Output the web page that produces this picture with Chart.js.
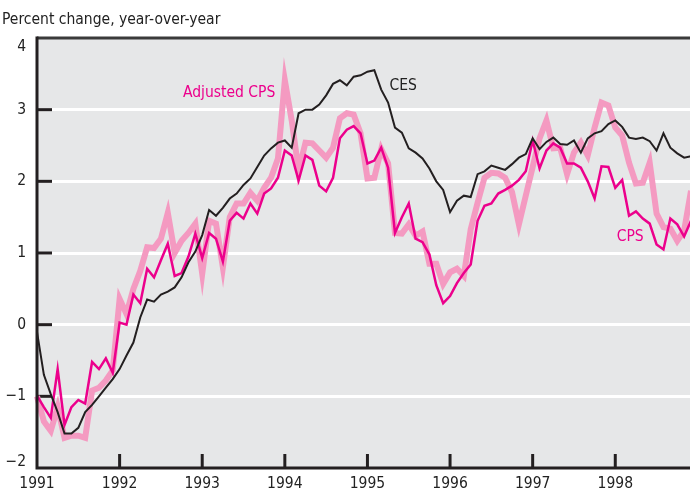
<!DOCTYPE html>
<html>
<head>
<meta charset="utf-8">
<script src="https://cdn.jsdelivr.net/npm/chart.js@4"></script>
<style>
  html, body { margin: 0; padding: 0; background: #fff; }
  #wrap { width: 690px; height: 492px; position: relative; overflow: hidden; }
</style>
</head>
<body>
<div id="wrap"><canvas id="chart" width="698" height="492"></canvas></div>
<script>
// Years on the x axis (monthly data, Jan 1991 - Dec 1998)
const years = [1991, 1992, 1993, 1994, 1995, 1996, 1997, 1998];

// Tick values on the y axis
const yTicks = [-2, -1, 0, 1, 2, 3, 4];

// CES, year-over-year percent change
const cesValues = [
    -0.1, -0.7, -0.97, -1.22, -1.52, -1.52, -1.44, -1.22, -1.12, -1.0, -0.88, -0.76,
    -0.62, -0.43, -0.25, 0.1, 0.35, 0.32, 0.42, 0.46, 0.52, 0.66, 0.87, 1.02,
    1.25, 1.6, 1.52, 1.63, 1.76, 1.83, 1.95, 2.04, 2.2, 2.36, 2.46, 2.54,
    2.57, 2.47, 2.95, 3.0, 3.0, 3.07, 3.2, 3.36, 3.41, 3.34, 3.46, 3.48,
    3.53, 3.55, 3.28, 3.1, 2.75, 2.68, 2.46, 2.4, 2.32, 2.18, 2.0, 1.88,
    1.57, 1.73, 1.8, 1.78, 2.1, 2.14, 2.22, 2.19, 2.16, 2.24, 2.33, 2.38,
    2.6, 2.45, 2.55, 2.61, 2.52, 2.51, 2.57, 2.4, 2.6, 2.67, 2.7, 2.8,
    2.85, 2.76, 2.61, 2.59, 2.61, 2.56, 2.43, 2.67, 2.47, 2.39, 2.33, 2.35
];

// CPS, year-over-year percent change
const cpsValues = [
    -0.99, -1.15, -1.3, -0.62, -1.4, -1.15, -1.05, -1.1, -0.52, -0.62, -0.47, -0.67,
    0.03, 0.0, 0.42, 0.3, 0.78, 0.66, 0.9, 1.13, 0.68, 0.72, 0.95, 1.27,
    0.93, 1.28, 1.2, 0.88, 1.45, 1.56, 1.48, 1.69, 1.55, 1.83, 1.9, 2.05,
    2.43, 2.36, 2.01, 2.36, 2.3, 1.94, 1.86, 2.05, 2.6, 2.72, 2.77, 2.67,
    2.25, 2.29, 2.47, 2.19, 1.28, 1.5, 1.69, 1.2, 1.15, 0.98, 0.55, 0.3,
    0.4, 0.58, 0.72, 0.84, 1.45, 1.66, 1.69, 1.83, 1.88, 1.94, 2.02, 2.14,
    2.57, 2.18, 2.43, 2.53, 2.47, 2.25, 2.25, 2.19, 2.0, 1.76, 2.21, 2.2,
    1.91, 2.02, 1.52, 1.58, 1.48, 1.41, 1.12, 1.05, 1.48, 1.4, 1.23, 1.45
];

// Adjusted CPS, year-over-year percent change
const adjustedCpsValues = [
    -1.0, -1.35, -1.48, -1.15, -1.58, -1.55, -1.55, -1.58, -0.92, -0.88, -0.78, -0.64,
    0.36, 0.15, 0.5, 0.75, 1.08, 1.07, 1.2, 1.56, 1.0, 1.17, 1.28, 1.41,
    0.71, 1.45, 1.41, 0.8, 1.5, 1.69, 1.69, 1.84, 1.73, 1.91, 2.05, 2.32,
    3.41, 2.85, 2.15, 2.54, 2.53, 2.43, 2.33, 2.47, 2.88, 2.95, 2.93, 2.67,
    2.04, 2.05, 2.45, 2.25, 1.28, 1.27, 1.4, 1.24, 1.3, 0.85, 0.85, 0.57,
    0.73, 0.78, 0.68, 1.33, 1.7, 2.05, 2.12, 2.11, 2.05, 1.85, 1.4, 1.8,
    2.2, 2.6, 2.85, 2.46, 2.47, 2.1, 2.4, 2.54, 2.36, 2.75, 3.1, 3.06,
    2.75, 2.64, 2.26, 1.97, 1.98, 2.26, 1.55, 1.36, 1.34, 1.17, 1.31, 1.87
];

const FONT = '"Liberation Sans Narrow", "DejaVu Sans Condensed", sans-serif';
const TEXT_SIZE = 15.5;
const BLACK = '#231f20';
const MAGENTA = '#ec008c';
const PINK = '#f49ac1';
const PANEL = '#e6e7e8';

// One label per month
const monthLabels = [];
years.forEach(y => {
    for (let m = 1; m <= 12; m++) monthLabels.push(y + '-' + m);
});

function yLabel(v) {
    return v < 0 ? '\u2212' + Math.abs(v) : String(v);
}

// Panel background, title, axis labels and series names
const decorPlugin = {
    id: 'decor',
    beforeDraw(chart) {
        const {ctx, chartArea: a} = chart;
        ctx.save();
        ctx.fillStyle = PANEL;
        ctx.fillRect(a.left, a.top, a.right - a.left, a.bottom - a.top);
        ctx.fillStyle = '#222';
        ctx.font = TEXT_SIZE + 'px ' + FONT;
        ctx.textBaseline = 'alphabetic';
        ctx.textAlign = 'left';
        ctx.fillText('Percent change, year-over-year', 2, 24);
        ctx.restore();
    },
    beforeDatasetsDraw(chart) {
        // short tick marks inside the panel
        const {ctx, chartArea: a, scales} = chart;
        ctx.save();
        ctx.strokeStyle = BLACK;
        ctx.lineWidth = 3;
        yTicks.forEach(v => {
            if (v === -2 || v === 4) return;
            const y = scales.y.getPixelForValue(v);
            ctx.beginPath();
            ctx.moveTo(a.left, y);
            ctx.lineTo(a.left + 15, y);
            ctx.stroke();
        });
        years.forEach((yr, i) => {
            if (i === 0) return;
            const x = scales.x.getPixelForValue(i * 12);
            ctx.beginPath();
            ctx.moveTo(x, a.bottom);
            ctx.lineTo(x, a.bottom - 14);
            ctx.stroke();
        });
        ctx.restore();
    },
    afterDatasetsDraw(chart) {
        const {ctx, chartArea: a, scales} = chart;
        ctx.save();
        // frame: dark top border, black left and bottom axes
        ctx.lineWidth = 3;
        ctx.strokeStyle = '#3a3a3a';
        ctx.beginPath();
        ctx.moveTo(a.left, a.top);
        ctx.lineTo(a.right, a.top);
        ctx.stroke();
        ctx.strokeStyle = BLACK;
        ctx.beginPath();
        ctx.moveTo(a.left, a.top - 1.5);
        ctx.lineTo(a.left, a.bottom);
        ctx.lineTo(a.right, a.bottom);
        ctx.stroke();

        ctx.font = TEXT_SIZE + 'px ' + FONT;
        ctx.textBaseline = 'middle';

        // y tick labels, end ones kept inside the panel height
        ctx.fillStyle = '#222';
        ctx.textAlign = 'right';
        yTicks.forEach(v => {
            let y = scales.y.getPixelForValue(v);
            y = Math.max(a.top + 9, Math.min(a.bottom - 6, y));
            ctx.fillText(yLabel(v), a.left - 11, y);
        });

        // series names
        ctx.textAlign = 'left';
        ctx.fillStyle = MAGENTA;
        ctx.fillText('Adjusted CPS', scales.x.getPixelForValue(21.2), scales.y.getPixelForValue(3.23));
        ctx.fillText('CPS', scales.x.getPixelForValue(84.2), scales.y.getPixelForValue(1.23));
        ctx.fillStyle = '#222';
        ctx.fillText('CES', scales.x.getPixelForValue(51.2), scales.y.getPixelForValue(3.33));
        ctx.restore();
    }
};

const ctx = document.getElementById('chart').getContext('2d');
new Chart(ctx, {
    type: 'line',
    data: {
        labels: monthLabels,
        datasets: [
            {
                label: 'CES',
                data: cesValues,
                borderColor: BLACK,
                borderWidth: 2,
                pointRadius: 0,
                tension: 0,
                order: 1
            },
            {
                label: 'CPS',
                data: cpsValues,
                borderColor: MAGENTA,
                borderWidth: 2.5,
                pointRadius: 0,
                tension: 0,
                order: 2
            },
            {
                label: 'Adjusted CPS',
                data: adjustedCpsValues,
                borderColor: PINK,
                borderWidth: 6,
                pointRadius: 0,
                tension: 0,
                order: 3
            }
        ]
    },
    options: {
        responsive: false,
        animation: false,
        layout: { padding: { top: 38, right: 0, left: 0, bottom: 0 } },
        plugins: {
            legend: { display: false },
            tooltip: { enabled: false }
        },
        scales: {
            x: {
                type: 'category',
                offset: false,
                grid: { display: false, drawTicks: false },
                border: { display: false },
                afterFit(scale) { scale.height = 24; },
                ticks: {
                    autoSkip: false,
                    maxRotation: 0,
                    padding: 7,
                    color: '#222',
                    font: { family: FONT, size: TEXT_SIZE },
                    callback: (val, idx) => idx % 12 === 0 ? String(years[idx / 12]) : ''
                }
            },
            y: {
                min: -2,
                max: 4,
                afterFit(scale) { scale.width = 37; },
                afterBuildTicks(scale) {
                    scale.ticks = yTicks.map(v => ({value: v}));
                },
                grid: {
                    drawTicks: false,
                    lineWidth: 3,
                    color: c => (c.tick && (c.tick.value === -2 || c.tick.value === 4)) ? 'rgba(0,0,0,0)' : '#ffffff'
                },
                border: { display: false },
                ticks: { display: false }
            }
        }
    },
    plugins: [decorPlugin]
});
</script>
</body>
</html>
